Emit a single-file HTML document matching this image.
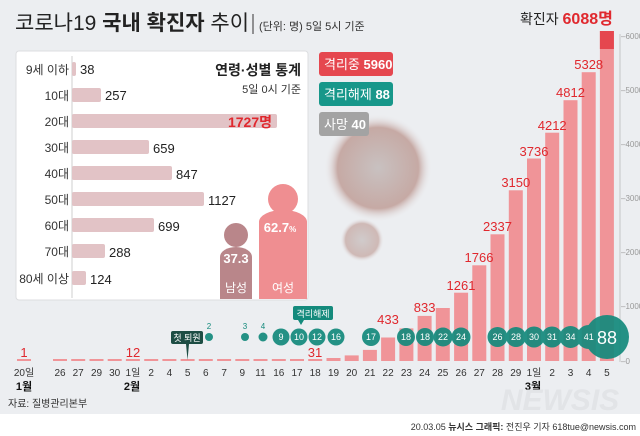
<!DOCTYPE html>
<html><head><meta charset="utf-8"><style>
html,body{margin:0;padding:0;background:#eceef1;}
svg{display:block;font-family:"Liberation Sans","Noto Sans CJK KR",sans-serif;}
</style></head><body>
<svg width="640" height="436" viewBox="0 0 640 436" xmlns="http://www.w3.org/2000/svg">
<defs>
<radialGradient id="vg" cx="50%" cy="50%" r="50%">
<stop offset="0" stop-color="#c4bcbb"/><stop offset="0.75" stop-color="#c2a29c"/><stop offset="1" stop-color="#eceef1" stop-opacity="0"/>
</radialGradient>
</defs>
<rect width="640" height="436" fill="#eceef1"/>
<rect x="0" y="414" width="640" height="22" fill="#fff"/>
<circle cx="378" cy="168" r="54" fill="url(#vg)" opacity="0.9"/>
<circle cx="362" cy="240" r="22" fill="url(#vg)" opacity="0.7"/>
<text x="15" y="30" font-size="21" fill="#222">코로나19 <tspan font-weight="bold">국내 확진자</tspan> 추이</text>
<line x1="253" y1="14" x2="253" y2="34" stroke="#333" stroke-width="1"/>
<text x="259" y="30" font-size="11" fill="#333">(단위: 명) 5일 5시 기준</text>
<text x="520" y="24" font-size="14" fill="#222">확진자 <tspan font-weight="bold" fill="#e0282e" font-size="16">6088명</tspan></text>
<rect x="16" y="51" width="292" height="249" rx="3" fill="#fff" stroke="#dcdde0"/>
<line x1="72" y1="56" x2="72" y2="298" stroke="#bbb" stroke-width="0.7"/>
<g font-size="12" fill="#333" text-anchor="end">
<text x="69" y="74">9세 이하</text><text x="69" y="100">10대</text><text x="69" y="126">20대</text><text x="69" y="152">30대</text><text x="69" y="178">40대</text><text x="69" y="204">50대</text><text x="69" y="230">60대</text><text x="69" y="256">70대</text><text x="69" y="283">80세 이상</text>
</g>
<g fill="#e2c3c6">
<rect x="72" y="62" width="4" height="14" rx="2"/>
<rect x="72" y="88" width="29" height="14" rx="2"/>
<rect x="72" y="114" width="205" height="14" rx="2"/>
<rect x="72" y="140" width="77" height="14" rx="2"/>
<rect x="72" y="166" width="100" height="14" rx="2"/>
<rect x="72" y="192" width="132" height="14" rx="2"/>
<rect x="72" y="218" width="82" height="14" rx="2"/>
<rect x="72" y="244" width="33" height="14" rx="2"/>
<rect x="72" y="271" width="14" height="14" rx="2"/>
</g>
<g font-size="13" fill="#222">
<text x="80" y="74">38</text><text x="105" y="100">257</text><text x="153" y="153">659</text><text x="176" y="179">847</text><text x="208" y="205">1127</text><text x="158" y="231">699</text><text x="109" y="257">288</text><text x="90" y="284">124</text>
</g>
<text x="272" y="127" font-size="14" font-weight="bold" fill="#e0282e" text-anchor="end">1727명</text>
<text x="301" y="75" font-size="14" font-weight="bold" fill="#222" text-anchor="end">연령·성별 통계</text>
<text x="301" y="93" font-size="11" fill="#333" text-anchor="end">5일 0시 기준</text>
<circle cx="236" cy="235" r="12" fill="#b9868a"/>
<path d="M220 299 V257 a16 10 0 0 1 32 0 V299 Z" fill="#b9868a"/>
<text x="236" y="263" font-size="13" font-weight="bold" fill="#fff" text-anchor="middle">37.3</text>
<text x="236" y="292" font-size="12" fill="#fff" text-anchor="middle">남성</text>
<circle cx="283" cy="199" r="15" fill="#ef8e91"/>
<path d="M259 299 V222 a24 12 0 0 1 48 0 V299 Z" fill="#ef8e91"/>
<text x="280" y="232" font-size="13" font-weight="bold" fill="#fff" text-anchor="middle">62.7<tspan font-size="8">%</tspan></text>
<text x="283" y="292" font-size="12" fill="#fff" text-anchor="middle">여성</text>
<rect x="319" y="52" width="74" height="24" rx="3" fill="#e5474f"/>
<text x="324" y="69" font-size="13" fill="#fff">격리중 <tspan font-weight="bold">5960</tspan></text>
<rect x="319" y="82" width="74" height="24" rx="3" fill="#17978a"/>
<text x="324" y="99" font-size="13" fill="#fff">격리해제 <tspan font-weight="bold">88</tspan></text>
<rect x="319" y="112" width="50" height="24" rx="3" fill="#a3a3a3"/>
<text x="324" y="129" font-size="13" fill="#fff">사망 <tspan font-weight="bold">40</tspan></text>
<line x1="620" y1="34" x2="620" y2="362" stroke="#bbb" stroke-width="0.8"/>
<g font-size="8" fill="#999">
<text x="621" y="39">–6000</text><text x="621" y="93">–5000</text><text x="621" y="147">–4000</text><text x="621" y="201">–3000</text><text x="621" y="255">–2000</text><text x="621" y="309">–1000</text><text x="621" y="364">–0</text>
</g>
<g fill="#f09498">
<rect x="17" y="359" width="14" height="2"/>
<rect x="53" y="359" width="14" height="2"/><rect x="71.2" y="359" width="14" height="2"/><rect x="89.5" y="359" width="14" height="2"/><rect x="107.7" y="359" width="14" height="2"/><rect x="125.9" y="359" width="14" height="2"/><rect x="144.2" y="359" width="14" height="2"/><rect x="162.4" y="359" width="14" height="2"/><rect x="180.6" y="359" width="14" height="2"/><rect x="198.8" y="359" width="14" height="2"/><rect x="217.1" y="359" width="14" height="2"/><rect x="235.3" y="359" width="14" height="2"/><rect x="253.5" y="359" width="14" height="2"/><rect x="271.8" y="359" width="14" height="2"/><rect x="290" y="359" width="14" height="2"/><rect x="308.2" y="359" width="14" height="2"/>
<rect x="326.5" y="358" width="14" height="3"/>
<rect x="344.7" y="355.4" width="14" height="5.6"/>
<rect x="362.9" y="349.9" width="14" height="11.1"/>
<rect x="381.1" y="337.5" width="14" height="23.5"/>
<rect x="399.4" y="328.4" width="14" height="32.6"/>
<rect x="417.6" y="315.9" width="14" height="45.1"/>
<rect x="435.8" y="308" width="14" height="53"/>
<rect x="454.1" y="292.7" width="14" height="68.3"/>
<rect x="472.3" y="265.3" width="14" height="95.7"/>
<rect x="490.5" y="234.3" width="14" height="126.7"/>
<rect x="508.8" y="190.3" width="14" height="170.7"/>
<rect x="527" y="158.5" width="14" height="202.5"/>
<rect x="545.2" y="132.7" width="14" height="228.3"/>
<rect x="563.5" y="100.2" width="14" height="260.8"/>
<rect x="581.7" y="72.2" width="14" height="288.8"/>
<rect x="599.9" y="31" width="14" height="330"/>
</g>
<rect x="599.9" y="31" width="14" height="18" fill="#e5474f"/>
<g font-size="13" fill="#e0282e" text-anchor="middle">
<text x="24" y="357">1</text><text x="133" y="357">12</text><text x="315" y="357">31</text>
<text x="388" y="324">433</text><text x="424.6" y="312">833</text><text x="461" y="290">1261</text><text x="479" y="262">1766</text><text x="497.5" y="231">2337</text><text x="515.8" y="187">3150</text><text x="534" y="156">3736</text><text x="552.2" y="130">4212</text><text x="570.5" y="97">4812</text><text x="588.7" y="69">5328</text>
</g>
<g fill="#148a7c" opacity="0.92">
<circle cx="209" cy="337" r="4"/><circle cx="245" cy="337" r="4"/><circle cx="263" cy="337" r="4.5"/>
<circle cx="281" cy="337" r="8.5"/><circle cx="299" cy="337" r="8.5"/><circle cx="317" cy="337" r="8.5"/><circle cx="336" cy="337" r="8.5"/>
<circle cx="371" cy="337" r="9"/><circle cx="406" cy="337" r="9"/><circle cx="425" cy="337" r="9"/><circle cx="443" cy="337" r="9.5"/><circle cx="461" cy="337" r="9.5"/>
<circle cx="497.5" cy="337" r="10"/><circle cx="516" cy="337" r="10"/><circle cx="534" cy="337" r="10.5"/><circle cx="552" cy="337" r="10.5"/><circle cx="570.5" cy="337" r="11"/><circle cx="588.7" cy="337" r="12"/>
<circle cx="607" cy="337" r="22"/>
</g>
<g font-size="8" fill="#148a7c" text-anchor="middle"><text x="209" y="329">2</text><text x="245" y="329">3</text><text x="263" y="329">4</text></g>
<g font-size="9" fill="#fff" text-anchor="middle">
<text x="281" y="340">9</text><text x="299" y="340">10</text><text x="317" y="340">12</text><text x="336" y="340">16</text><text x="371" y="340">17</text><text x="406" y="340">18</text><text x="425" y="340">18</text><text x="443" y="340">22</text><text x="461" y="340">24</text><text x="497.5" y="340">26</text><text x="516" y="340">28</text><text x="534" y="340">30</text><text x="552" y="340">31</text><text x="570.5" y="340">34</text><text x="588.7" y="340">41</text>
</g>
<text x="607" y="344" font-size="18" fill="#fff" text-anchor="middle">88</text>
<rect x="171" y="331" width="32" height="13" rx="2" fill="#1d4d44"/>
<path d="M186 344 L187.5 360 L189 344 Z" fill="#1d4d44"/>
<text x="187" y="341" font-size="9" fill="#fff" text-anchor="middle">첫 퇴원</text>
<rect x="293" y="306" width="40" height="14" rx="2" fill="#148a7c"/>
<path d="M298 320 L301 325 L304 320 Z" fill="#148a7c"/>
<text x="313" y="317" font-size="9" fill="#fff" text-anchor="middle">격리해제</text>
<g font-size="10" fill="#333" text-anchor="middle">
<text x="24" y="376">20일</text><text x="60" y="376">26</text><text x="78.2" y="376">27</text><text x="96.5" y="376">29</text><text x="114.7" y="376">30</text><text x="132.9" y="376">1일</text><text x="151.2" y="376">2</text><text x="169.4" y="376">4</text><text x="187.6" y="376">5</text><text x="205.8" y="376">6</text><text x="224.1" y="376">7</text><text x="242.3" y="376">9</text><text x="260.5" y="376">11</text><text x="278.8" y="376">16</text><text x="297" y="376">17</text><text x="315.2" y="376">18</text><text x="333.5" y="376">19</text><text x="351.7" y="376">20</text><text x="369.9" y="376">21</text><text x="388.1" y="376">22</text><text x="406.4" y="376">23</text><text x="424.6" y="376">24</text><text x="442.8" y="376">25</text><text x="461.1" y="376">26</text><text x="479.3" y="376">27</text><text x="497.5" y="376">28</text><text x="515.8" y="376">29</text><text x="534" y="376">1일</text><text x="552.2" y="376">2</text><text x="570.5" y="376">3</text><text x="588.7" y="376">4</text><text x="606.9" y="376">5</text>
</g>
<g font-size="11" font-weight="bold" fill="#111" text-anchor="middle">
<text x="24" y="390">1월</text><text x="132" y="390">2월</text><text x="533" y="390">3월</text>
</g>
<text x="8" y="407" font-size="10" fill="#333">자료: 질병관리본부</text>
<text x="560" y="410" font-size="30" font-style="italic" font-weight="bold" fill="#e2e4e7" text-anchor="middle">NEWSIS</text>
<text x="636" y="430" font-size="9" fill="#333" text-anchor="end">20.03.05 <tspan font-weight="bold">뉴시스 그래픽:</tspan> 전진우 기자 618tue@newsis.com</text>
</svg>
</body></html>
